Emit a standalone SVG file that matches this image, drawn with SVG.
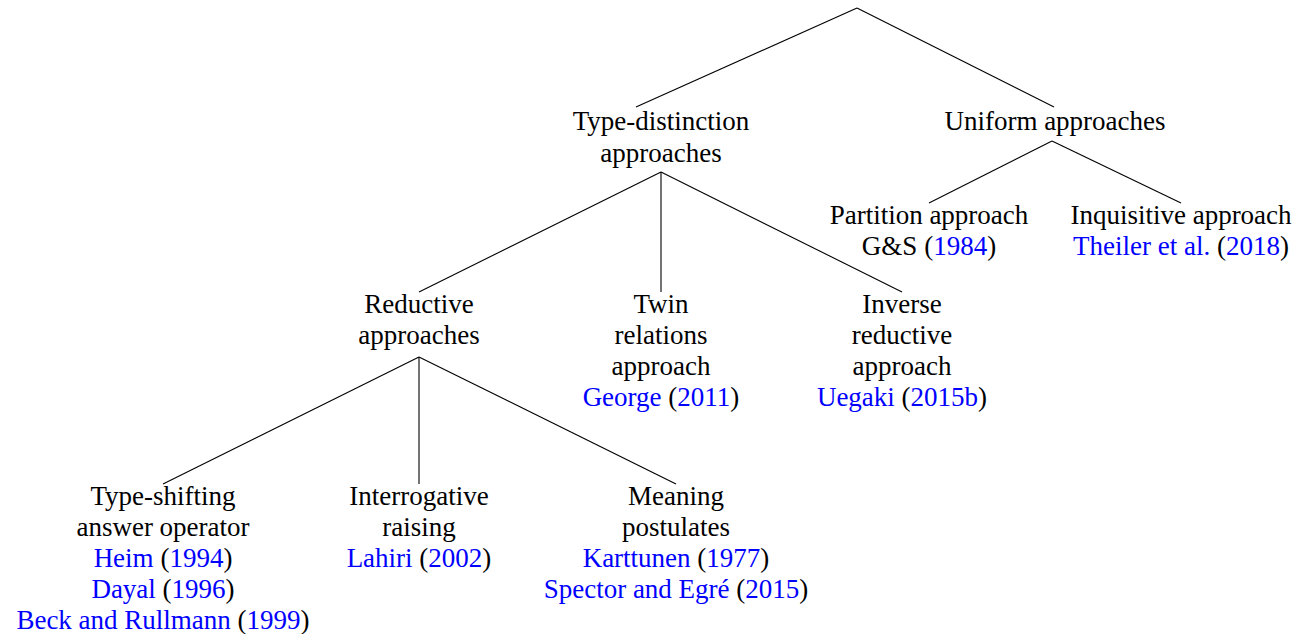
<svg xmlns="http://www.w3.org/2000/svg" width="1299" height="634" viewBox="0 0 1299 634" font-family="Liberation Serif" font-size="27">
<defs>
<style>
.c{fill:#0000ff}
</style>
</defs>
<rect width="1299" height="634" fill="#fff"/>
<g id="connectors" stroke="#000" stroke-width="1.1">
<line x1="857" y1="8" x2="636" y2="107"/>
<line x1="857" y1="8" x2="1054" y2="107"/>
<line x1="1052" y1="141" x2="929" y2="203"/>
<line x1="1052" y1="141" x2="1181" y2="203"/>
<line x1="661" y1="172" x2="419" y2="292"/>
<line x1="661" y1="172" x2="661" y2="292"/>
<line x1="661" y1="172" x2="902" y2="292"/>
<line x1="419" y1="357" x2="163" y2="484"/>
<line x1="419" y1="357" x2="419" y2="484"/>
<line x1="419" y1="357" x2="676" y2="484"/>
</g>
<g text-anchor="middle" fill="#000">
<g id="type-distinction"><text x="661" y="130">Type-distinction</text><text x="661" y="162">approaches</text></g>
<g id="uniform"><text x="1055" y="130">Uniform approaches</text></g>
<g id="partition"><text x="929" y="224">Partition approach</text><text x="929" y="255">G&amp;S (<tspan class="c">1984</tspan>)</text></g>
<g id="inquisitive"><text x="1181" y="224">Inquisitive approach</text><text x="1181" y="255"><tspan class="c">Theiler et al.</tspan> (<tspan class="c">2018</tspan>)</text></g>
<g id="reductive"><text x="419" y="313">Reductive</text><text x="419" y="344">approaches</text></g>
<g id="twin"><text x="661" y="313">Twin</text><text x="661" y="344">relations</text><text x="661" y="375">approach</text><text x="661" y="406"><tspan class="c">George</tspan> (<tspan class="c">2011</tspan>)</text></g>
<g id="inverse"><text x="902" y="313">Inverse</text><text x="902" y="344">reductive</text><text x="902" y="375">approach</text><text x="902" y="406"><tspan class="c">Uegaki</tspan> (<tspan class="c">2015b</tspan>)</text></g>
<g id="type-shifting"><text x="163" y="505">Type-shifting</text><text x="163" y="536">answer operator</text><text x="163" y="567"><tspan class="c">Heim</tspan> (<tspan class="c">1994</tspan>)</text><text x="163" y="598"><tspan class="c">Dayal</tspan> (<tspan class="c">1996</tspan>)</text><text x="163" y="629"><tspan class="c">Beck and Rullmann</tspan> (<tspan class="c">1999</tspan>)</text></g>
<g id="interrogative"><text x="419" y="505">Interrogative</text><text x="419" y="536">raising</text><text x="419" y="567"><tspan class="c">Lahiri</tspan> (<tspan class="c">2002</tspan>)</text></g>
<g id="meaning"><text x="676" y="505">Meaning</text><text x="676" y="536">postulates</text><text x="676" y="567"><tspan class="c">Karttunen</tspan> (<tspan class="c">1977</tspan>)</text><text x="676" y="598"><tspan class="c">Spector and Egr&#233;</tspan> (<tspan class="c">2015</tspan>)</text></g>
</g>
</svg>
